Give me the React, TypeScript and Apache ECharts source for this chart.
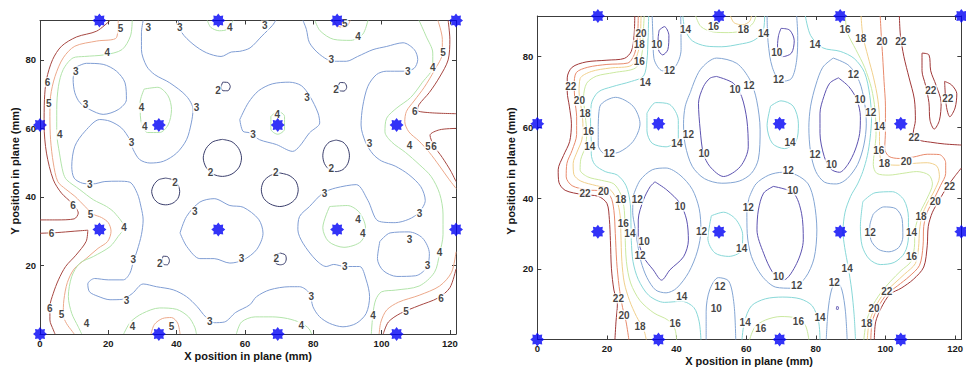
import React, { useEffect, useRef } from 'react';
import * as echarts from 'echarts';

// ---------------- axes ----------------
const X_TICKS = [0, 20, 40, 60, 80, 100, 120];
const Y_TICKS = [20, 40, 60, 80];
const X_MAX = 121.8;
const Y_MAX = 91.5;
const X_TITLE = 'X position in plane (mm)';
const Y_TITLE = 'Y position in plane (mm)';

// sensor positions (blue asterisks), same on both plates
const SENSORS: number[][] = [
  [17.4, 91.5], [52.2, 91.5], [87, 91.5], [121.8, 91.5],
  [0, 61], [34.8, 61], [69.6, 61], [104.4, 61],
  [17.4, 30.5], [52.2, 30.5], [87, 30.5], [121.8, 30.5],
  [0, 0], [34.8, 0], [69.6, 0], [104.4, 0],
];

// ---------------- left plate: contour lines (levels 2..6) ----------------
const LEFT_2: number[][][] = [
  [[53.4, 56.8], [56.2, 56.1], [58.2, 54.1], [59, 51.4], [58.3, 48.7], [56.2, 46.7], [53.4, 46], [50.6, 46.7], [48.6, 48.7], [47.8, 51.4], [48.6, 54.1], [50.6, 56.1], [53.4, 56.8]],
  [[36.8, 45.5], [38.9, 45], [40.4, 43.5], [40.9, 41.6], [40.4, 39.6], [38.9, 38.2], [36.8, 37.7], [34.7, 38.2], [33.3, 39.6], [32.7, 41.6], [33.3, 43.5], [34.7, 45], [36.8, 45.5]],
  [[70.2, 47], [72.9, 46.3], [74.9, 44.6], [75.6, 42.1], [74.9, 39.6], [72.9, 37.9], [70.2, 37.2], [67.5, 37.9], [65.5, 39.6], [64.8, 42.1], [65.5, 44.6], [67.5, 46.3], [70.2, 47]],
  [[86.7, 56.6], [88.7, 56], [90.1, 54.3], [90.6, 52], [90.1, 49.7], [88.7, 48], [86.7, 47.4], [84.7, 48], [83.3, 49.7], [82.8, 52], [83.3, 54.3], [84.7, 56], [86.7, 56.6]],
  [[53.5, 73.5], [55, 73.4], [55.7, 72.2], [55, 71], [53.6, 71], [53, 72], [53.5, 73.5]],
  [[87.8, 73.4], [89.2, 73.3], [89.8, 72], [89, 70.9], [87.7, 71], [87.3, 72.2], [87.8, 73.4]],
  [[36, 22.7], [37.3, 22.6], [37.9, 21.4], [37.3, 20.2], [36.2, 20.3], [35.8, 21.5], [36, 22.7]],
  [[70.4, 23.6], [71.8, 23.1], [72.1, 21.9], [71.6, 20.6], [70.4, 20.2], [69.1, 20.6], [68.7, 21.9], [69.2, 23.1], [70.4, 23.6]],
];

const LEFT_3: number[][][] = [
  [[10.2, 77.7], [13.6, 79], [18.5, 78.7], [22.4, 76.7], [24.9, 73.3], [25.3, 68.4], [22.9, 65.5], [18.5, 64.1], [14.6, 65.5], [11.7, 67.5], [10.2, 70.4], [9.7, 74.3], [10.2, 77.7]],
  [[30.2, 91.5], [29.7, 87.9], [29.7, 83], [31.2, 78.2], [33.6, 75.7], [38, 73.3], [42.9, 69.4], [44.8, 65.5], [44.3, 61.6], [42.9, 56.7], [40, 52.8], [36.1, 50.4], [32.2, 49.9], [29.2, 50.9], [27.3, 53.8], [26.3, 56.7], [23.9, 60.1], [20.5, 62.1], [17.5, 62.6], [13.2, 59.2], [10.2, 54.8], [9.3, 48.9], [10, 45.5], [12.5, 44], [15.5, 43.8], [19, 44.5], [23, 44.6], [26.3, 44.3], [28.5, 41], [29.6, 37], [30.2, 33.3], [29.7, 29], [28.5, 24.5], [27.3, 21], [26.3, 17.7], [24.4, 15.8], [20, 15.8], [16, 16.2], [14, 14.6], [14.5, 12.3], [17, 11], [20.5, 10], [24, 10.1], [27, 11.8], [30.2, 14.6], [34.1, 13.8], [39, 12.9], [42.9, 10.9], [46, 8], [48.5, 5], [51, 3.3], [54, 3.5], [57.3, 6.3], [61.4, 8.5], [63.4, 10.9], [67.3, 12.9], [73.1, 13.8], [76, 13.8], [78.9, 11.9], [79.9, 8], [81.8, 5.1], [84.8, 3.1], [88.7, 2.1], [92.6, 3.1], [95.5, 6], [96.5, 10.9], [95.5, 15.8], [93.6, 19.7], [89.2, 19.7], [86, 20.3], [83.8, 19.7], [80.8, 21.6], [77, 26.5], [75.5, 30.4], [76, 34.3], [78.9, 37.2], [82.8, 41.1], [86.5, 42.6], [92.6, 43.6], [96, 39], [99, 33], [104, 32.5], [108, 33.5], [111, 35.5], [112.8, 39], [111.5, 43], [108, 46.5], [104, 49], [100, 50.5], [97.5, 52.5], [95.3, 56], [94, 61], [94.5, 66.5], [96, 72.3], [98.5, 75.7], [101.4, 76.7], [106.3, 76.7], [109.5, 77.5], [110.6, 80.1], [109.6, 83], [106.3, 85], [101.4, 83.9], [97.5, 83], [93, 81], [89.7, 79.6], [85.8, 79.6], [81.9, 81.6], [78.9, 85], [78, 88.9], [77, 91.5]],
  [[40.5, 91.5], [41.5, 88], [44.8, 84.6], [48.7, 82.1], [53, 81], [56, 82.3], [58.5, 82.5], [61.5, 83.5], [65, 87], [68, 90], [69, 91.5]],
  [[58.5, 62.6], [61, 67.5], [64, 71], [68, 73], [73, 73.5], [76.5, 72.5], [79, 69.4], [81.4, 64.5], [81.9, 61.6], [78.9, 58.7], [76, 54.8], [74, 53.3], [69.2, 55.3], [64.3, 56.7], [61.4, 58.7], [59.4, 59.2], [58.5, 62.6]],
  [[41, 29.5], [42.9, 34.3], [46.8, 38.5], [51, 39.5], [55.6, 37.5], [59.5, 37], [64, 33.5], [65.3, 29.4], [63.4, 24.6], [59.5, 21.6], [55.6, 20.7], [51, 22], [46.8, 22], [43, 25.5], [41, 29.5]],
  [[99.5, 27], [102.5, 29.5], [108, 29.8], [112, 28], [114, 23.5], [113.3, 19.5], [110, 17], [104.5, 16.8], [100.5, 18.5], [98.8, 22], [99.5, 27]],
];

const LEFT_4: number[][][] = [
  [[27, 91.5], [26.5, 87], [24, 83], [19, 81.5], [13, 81], [9.7, 80.6], [6.8, 77.2], [5.4, 72.3], [4.9, 65.5], [4.9, 58.7], [5.7, 52.8], [6.8, 47], [7.8, 45], [11.7, 42.1], [15.6, 39.2], [19.5, 37.2], [21.9, 35.3], [24.6, 31.1], [22.9, 28.5], [20.5, 25.5], [15.6, 22.6], [11.7, 20.7], [9.3, 16.8], [8.3, 10.9], [9.3, 6], [11.2, 2.1], [12.2, 0]],
  [[24.5, 0], [26.5, 3.5], [30, 6], [35, 7.6], [40, 7.2], [43.5, 5], [45.3, 2], [45.8, 0]],
  [[57.5, 0], [59, 3.5], [63, 5], [68, 5], [72.5, 4.5], [76.5, 3.2], [78.8, 1.5], [79.5, 0]],
  [[49, 91.5], [50, 89.5], [52.5, 88.5], [55, 89], [56.5, 91.5]],
  [[80.5, 91.5], [82, 88.5], [86, 86], [91, 85.7], [94.5, 87.5], [96, 91.5]],
  [[30.5, 71.5], [34.5, 72], [37.5, 69.5], [38.5, 65.5], [37.5, 61], [35, 58.8], [31.5, 58.8], [29.5, 62.5], [29.3, 67.5], [30.5, 71.5]],
  [[67.6, 63.5], [69.6, 65], [71.6, 63.5], [71.6, 59.8], [69.6, 58.3], [67.6, 59.8], [67.6, 63.5]],
  [[84.8, 37.2], [90, 37.5], [93.5, 35.5], [95.3, 31], [94, 27], [89, 25.3], [84.5, 27], [82.8, 31], [84.8, 37.2]],
  [[111, 91.5], [113, 87], [115, 82], [115, 78], [112, 73.5], [108.5, 69], [104.5, 66], [101.5, 63], [101, 59], [103, 56], [107, 53], [111, 49.5], [114.5, 46], [117, 41], [118, 35], [118, 29], [117, 23.5], [115.5, 18], [111, 14], [104, 12.8], [100, 12.3], [98.3, 10], [97.5, 6], [97, 0]],
];

const LEFT_5: number[][][] = [
  [[22.9, 91.5], [22.4, 86.5], [16.6, 85.5], [10.2, 84], [6.8, 80.6], [4.4, 75.2], [3.1, 69.4], [2.9, 63.5], [3.1, 56.7], [3.9, 49.9], [5.2, 44.5], [7.5, 42.3], [10.2, 40.2], [13.2, 37.2], [15.5, 35], [18, 34], [20, 32.5], [20.8, 30], [19.8, 27], [17, 25], [13.5, 22], [10, 19], [8, 15], [7, 10], [6.8, 5.6], [7.8, 3], [9.5, 0.7], [10, 0]],
  [[32.5, 0], [33.5, 2.8], [35.8, 4.5], [38.5, 4.8], [40.3, 3.2], [41, 0]],
  [[86, 91.5], [87.3, 89.8], [89.5, 89.5], [90.8, 91.5]],
  [[116.5, 91.5], [117.8, 86], [117.8, 82], [115.5, 77], [112.5, 72], [109.5, 68], [107.3, 65], [106.8, 62], [108, 59], [111, 56.3], [114, 53], [117, 49], [119.5, 45.5], [121.8, 42.5]],
  [[121.8, 24], [120.5, 18], [117, 14], [111, 11.3], [105, 9.3], [101.5, 7], [99.8, 3.5], [99.3, 0]],
];

const LEFT_6: number[][][] = [
  [[20.5, 91.5], [16.6, 88.4], [10.7, 86.7], [6.3, 84], [3.7, 80.1], [1.9, 74.3], [1.3, 68.4], [1.2, 61], [1.9, 52.8], [3.9, 45], [6.3, 41.1], [9.3, 38.2], [11.2, 35.3], [10, 33.6], [5, 33.3], [0, 33.3]],
  [[0, 29.4], [5, 29.6], [10, 30], [14, 30.3], [13.5, 27], [10.5, 23], [7.5, 19.7], [5.4, 15.8], [3.9, 11.9], [2.9, 8], [2.9, 4.1], [3.9, 1.2], [4.4, 0]],
  [[119.5, 91.5], [120, 86], [119.5, 80], [117, 75], [114, 70.5], [111, 67], [110.5, 65.3], [114, 64.6], [121.8, 64.3]],
  [[121.8, 60], [117, 59.6], [114.2, 58], [115.3, 55], [117.8, 51.5], [120.3, 47.5], [121.8, 44.5]],
  [[121.8, 19], [120, 13.5], [116.5, 10.5], [111, 8.3], [105.5, 6], [102, 3.5], [100.5, 0]],
];

const LEFT_LABELS: [number, number, string][] = [
  [23.6, 89.2, '5'], [31.7, 89.4, '3'], [40.9, 89.4, '3'], [55.6, 89.4, '4'], [19.7, 82.3, '4'], [10.5, 76.7, '3'],
  [52.1, 71.1, '2'], [2.2, 73.5, '6'], [2.6, 67.2, '5'], [13.3, 67, '3'], [29.7, 66, '4'], [45.8, 66, '3'],
  [30.7, 60.6, '4'], [5.8, 58.2, '4'], [26.8, 55.8, '3'], [49.9, 47, '2'], [14.6, 43.6, '3'], [39.5, 44.1, '2'],
  [65.8, 90, '3'], [89.2, 90.7, '5'], [93.1, 86.9, '4'], [118, 82.3, '5'], [115, 77.7, '4'], [85.3, 80.1, '3'],
  [107.7, 76.7, '3'], [86.7, 71.3, '2'], [78.2, 68.9, '3'], [109.7, 65, '6'], [69.5, 64, '4'], [62.4, 58.2, '3'],
  [96.5, 55.7, '3'], [108.2, 55.1, '4'], [113.6, 54.8, '5'], [115.4, 54.8, '6'], [85.3, 48.4, '2'], [69, 47.2, '2'],
  [9.7, 37.4, '6'], [14.8, 34.8, '5'], [45.3, 35.8, '3'], [24.6, 31.1, '4'], [3.4, 29.4, '6'], [27.3, 21.6, '3'],
  [35.1, 20.7, '2'], [25.3, 9.7, '3'], [2.9, 7.5, '6'], [6.3, 5.6, '5'], [13.6, 3.1, '4'], [27.1, 2.3, '4'],
  [38.5, 2.1, '5'], [49.7, 3.6, '3'], [83.3, 41.1, '3'], [93.1, 33.5, '4'], [94.5, 29.4, '4'], [111.1, 35.3, '3'],
  [108.2, 27.5, '3'], [59, 21.9, '3'], [69.2, 22.1, '2'], [89.2, 19.7, '3'], [113.5, 19.9, '3'], [117, 23.8, '4'],
  [79.4, 10.9, '3'], [117.4, 10.4, '6'], [107.2, 6.7, '5'], [97.5, 5.4, '4'], [76.5, 2.4, '4'],
];

// ---------------- right plate: contour lines (levels 10..22) ----------------
const RIGHT_10: number[][][] = [
  [[33.8, 44.6], [37.2, 42.3], [41, 38.5], [42.9, 33.8], [43.4, 28.1], [42, 23.4], [38.1, 19.7], [35.7, 16.8], [33.3, 19.7], [30.5, 23.4], [29, 29], [29, 33.8], [30.5, 39.5], [32.4, 43.2], [33.8, 44.6]],
  [[51.5, 74.4], [56.3, 72.5], [58.7, 68.7], [60.2, 62.1], [60.6, 54.5], [58.3, 48.9], [53.5, 46.1], [49.6, 48.9], [47.7, 52.6], [46.8, 59.2], [46.3, 66.8], [47.7, 71.5], [49.6, 73.9], [51.5, 74.4]],
  [[86.5, 74], [89.5, 71.5], [91.8, 67.8], [92.8, 63], [92.6, 58.3], [91.3, 53.6], [89.2, 49.5], [86.8, 47.3], [84.3, 48.2], [82.4, 51.8], [81.2, 58.3], [81.2, 64], [82.3, 68.7], [84, 72.5], [86.5, 74]],
  [[67.8, 43.3], [73.6, 41.4], [75.9, 35.7], [76.4, 28.2], [74.5, 21.5], [70.7, 16.8], [67.8, 18.7], [65, 24.4], [63.1, 31], [63.5, 36.6], [65, 41.4], [67.8, 43.3]],
  [[35, 87.5], [36.5, 88.5], [37.8, 86], [37.5, 82], [36, 80.5], [34.8, 82], [34.7, 85], [35, 87.5]],
  [[70, 88], [72.5, 87.5], [73.8, 84.5], [73, 81], [70.5, 80], [69, 83], [69.3, 86], [70, 88]],
  [[50.8, 9.2], [51.3, 9.3], [51.4, 8.6], [50.9, 8.4], [50.8, 9.2]],
  [[86, 9.3], [86.5, 9.2], [86.4, 8.5], [85.9, 8.6], [86, 9.3]],
];

const RIGHT_12: number[][][] = [
  [[17.5, 60], [18, 66], [22.5, 68.5], [27.5, 66], [29.5, 61], [27.5, 56], [23.5, 53], [19.5, 52.5], [17.5, 55], [17.5, 60]],
  [[33, 91.5], [33.2, 86], [33.5, 79.5], [36, 76], [39.5, 77], [41.3, 82], [41.2, 91.5]],
  [[27.5, 40.5], [29.5, 45], [33, 48], [37, 48.5], [41, 46.5], [44.5, 42.5], [46.5, 37], [47, 31], [46, 25], [43.5, 19], [40, 14.5], [37, 13.2], [34, 14], [31.5, 17.5], [29.8, 22], [28.8, 27], [28, 32], [27.4, 36], [27.5, 40.5]],
  [[44, 70], [46.8, 76.3], [51.5, 79.6], [57.3, 78.1], [61.1, 73.4], [63, 67.7], [64, 59.3], [63.5, 51], [61.5, 47], [58, 44.8], [53, 44.2], [48, 45.5], [44.5, 49], [42.5, 55], [42, 61], [42.5, 66], [44, 70]],
  [[60.8, 40], [62.8, 44], [66.5, 46.5], [70.5, 47.3], [74.5, 46.5], [77.8, 44], [79.5, 39], [80.3, 31], [79.5, 23], [77, 17.5], [73, 14.5], [68.5, 14.8], [64.5, 18], [61.5, 23.5], [60.3, 30], [60.2, 36], [60.8, 40]],
  [[66, 91.5], [66.3, 84], [67.5, 77], [70, 73], [73, 73.8], [74.5, 79], [74.8, 86], [74.5, 91.5]],
  [[85, 79.6], [89.5, 77.5], [92.5, 73], [94, 67], [94.5, 61], [93.8, 55], [92, 49.5], [89, 45.5], [86, 44], [82.5, 44.5], [80, 47.5], [78.5, 53], [78, 60], [78.5, 66], [80, 72], [82, 77], [85, 79.6]],
  [[96.5, 35.5], [99.5, 37.5], [103, 37], [104.8, 34], [105, 29], [103.8, 26], [101, 24.8], [98, 25.5], [95.8, 28.2], [95.5, 32], [96.5, 35.5]],
  [[48.5, 0], [48.5, 8], [49.5, 14], [52, 17.5], [55, 16.5], [56.5, 10], [57, 0]],
  [[83, 0], [83.5, 8], [84.5, 14], [86, 16.5], [87.5, 14], [88.5, 8], [89, 0]],
];

const RIGHT_14: number[][][] = [
  [[32, 91.5], [31.8, 85], [31.5, 79], [30.5, 74.5], [27, 73], [21.5, 71.5], [17.5, 70], [15.5, 66.5], [15.3, 61], [15.5, 56], [15.5, 52.5], [16.5, 49.5], [19.5, 47.5], [23, 46.5], [25.5, 43.5], [26.7, 38.5], [26.9, 33], [27, 28], [27.5, 22], [29, 17], [32, 12.5], [36.5, 10.5], [41.5, 10.8], [45, 9], [46.5, 5], [47, 0]],
  [[31.5, 64], [34, 67], [38, 66.5], [40.5, 62], [40.5, 57], [37, 54.5], [33, 55.5], [31.5, 59], [31.5, 64]],
  [[50, 35], [53.5, 36], [57, 34], [59, 29.5], [58.5, 25], [55, 23.5], [51, 24.5], [49, 28.5], [50, 35]],
  [[67, 66], [70, 67.5], [73.5, 66], [75, 61], [74.3, 56], [71, 54], [67.5, 55.5], [66, 60.5], [67, 66]],
  [[41.8, 91.5], [42.5, 87.5], [44.5, 84.5], [48.5, 83], [53, 82.8], [58, 83.5], [62, 84.5], [64.8, 87], [65.3, 91.5]],
  [[77, 91.5], [78.5, 86], [82, 82.5], [87, 81.5], [91, 79.5], [94, 75.5], [95.5, 69], [96, 62.5], [95.6, 57], [94.8, 52], [93.5, 47.5], [92, 44], [90, 40.5], [88.4, 36], [87.8, 30.5], [88.3, 26], [89.3, 20.5], [90.3, 14], [91, 7], [91.4, 0]],
  [[58.8, 0], [59.5, 5], [61.5, 9.5], [65.5, 11.5], [70.5, 12], [75.5, 11.5], [79, 9.5], [80.8, 5], [81.2, 0]],
  [[93.5, 39], [97, 41.5], [102, 41.8], [105.3, 39.5], [106.6, 34.5], [106.6, 29], [105.5, 24.5], [102.5, 21.8], [98.5, 21.2], [95.3, 22.8], [93.3, 26.5], [92.8, 32], [93.5, 39]],
];

const RIGHT_16: number[][][] = [
  [[30.7, 91.5], [30.4, 86], [30, 80.5], [28.2, 76.8], [22, 75.5], [17, 74.5], [14.2, 72.5], [13.3, 68.5], [13.8, 63], [14.2, 58.5], [13.8, 54.5], [12.5, 51], [12.3, 48], [14.5, 46], [18.5, 45], [22, 44], [24, 41], [25, 36.5], [25.2, 30], [25.6, 22], [26.8, 16], [29.5, 11], [33.5, 7.5], [37.5, 5.5], [39.5, 3], [40, 0]],
  [[88.5, 91.5], [89, 87], [91.5, 82], [94, 77], [96, 71], [97, 65], [97.3, 58], [96.8, 53], [96.5, 49.5], [97.5, 47], [101, 46.5], [105, 47], [109, 47.5], [112.5, 46.5], [113.5, 44], [112, 40], [110, 36], [108.5, 31], [108.3, 26], [107.3, 22], [104.5, 19.5], [101.5, 16.5], [98.5, 13], [96, 9], [94.5, 5], [93.8, 0]],
  [[45.5, 91.5], [47, 88.5], [50.5, 87], [55, 86.8], [59.5, 87.5], [62, 89.5], [62.8, 91.5]],
  [[61, 0], [62.5, 3.5], [65.5, 5.5], [70, 6.5], [74.5, 6], [77, 4], [78, 0]],
];

const RIGHT_18: number[][][] = [
  [[29.8, 91.5], [29.6, 86], [29, 81.5], [27, 77.5], [21, 76.8], [15.5, 75.8], [12.3, 73.8], [12, 70], [12.6, 65.5], [13.1, 61], [12.8, 56.5], [11.4, 53], [10.3, 49.8], [10.5, 46.7], [12.5, 44.8], [17, 43.5], [20.8, 42.5], [22.8, 39.5], [23.8, 35], [24, 30], [24.3, 22], [25, 16], [26.5, 11], [28.5, 6.5], [30.5, 3], [31.3, 0]],
  [[93, 91.5], [93.5, 86], [95, 80], [96.6, 74], [97.8, 68], [98.3, 62], [98.3, 56], [98.5, 51.5], [100, 49.6], [104, 49.3], [108, 49.8], [112, 50], [114.8, 49], [115.5, 46], [114, 42], [112, 38.5], [110.5, 35], [109.8, 31], [109.5, 26], [108.6, 21.5], [105.5, 18.5], [102.5, 15.8], [99.5, 13], [97, 9], [95.3, 4.7], [94.8, 0]],
  [[55.5, 91.5], [56.5, 89.6], [59, 89], [61, 90], [61.5, 91.5]],
];

const RIGHT_20: number[][][] = [
  [[29, 91.5], [28.8, 86], [28, 81], [26, 78.2], [20, 77.8], [14.5, 77], [11.2, 75.5], [10.6, 72], [10.8, 67.5], [11.3, 63], [11.3, 58], [10, 53.5], [8.5, 49.8], [8.3, 46], [10, 43.5], [14.5, 42.3], [18.5, 42], [21, 40.5], [22, 36.5], [22.4, 30], [22.8, 22], [23.5, 15], [24.5, 9], [25.5, 5], [26.3, 0]],
  [[98.5, 91.5], [98.8, 86], [99.2, 80], [99.6, 73], [100, 66], [100, 59], [99.8, 54], [101, 51.8], [104, 51.2], [108, 51.6], [112, 52.4], [115.5, 52.3], [117.3, 50], [117.3, 47], [115.8, 43.5], [113.8, 39.5], [112, 36], [111, 32], [110.8, 26.5], [109.8, 21], [106.8, 17.8], [103.5, 15.2], [100.4, 12.8], [97.8, 9], [96.2, 5], [95.8, 0]],
];

const RIGHT_22: number[][][] = [
  [[28, 91.5], [27.8, 86], [27, 81.5], [25, 79.5], [20, 79], [14, 78.5], [10, 77], [8.6, 74], [8.6, 70], [9.2, 66], [9.8, 61], [9.3, 56], [7.5, 52], [6, 48], [6.2, 44.5], [8, 42.2], [13, 41], [17.5, 40.5], [20, 38.5], [20.7, 34], [21, 28], [21.3, 20], [22, 14], [23, 10], [22.6, 5], [22.3, 0]],
  [[104, 91.5], [104.3, 86], [105.3, 80], [106.8, 74], [108.3, 68], [108.6, 62], [108, 58.5], [109.5, 56.5], [113, 55.8], [117, 55.3], [121.8, 55]],
  [[121.8, 48.5], [119.8, 46], [117.6, 43], [115.5, 39.5], [113.5, 36], [112.3, 32], [112, 26.5], [111, 20.5], [108, 17], [104.5, 14.5], [101.3, 12.8], [98.8, 9], [97.2, 5], [96.8, 0]],
  [[110.5, 81], [112.5, 80.5], [113, 76], [114.5, 72], [116, 67], [115.5, 62], [114, 59.5], [112.8, 62], [112.5, 67], [111.5, 72], [110.5, 76], [110.5, 81]],
  [[117, 73], [119, 72], [120.5, 69.5], [120, 65.5], [118.5, 63], [117.5, 66], [117, 73]],
];

const RIGHT_LABELS: [number, number, string][] = [
  [29.8, 86.6, '20'], [29.3, 83.3, '18'], [34.3, 83.3, '10'], [29.3, 78.6, '16'], [38, 76, '12'], [31, 72.7, '14'],
  [42.6, 87.8, '14'], [50.6, 88.5, '16'], [9.6, 71.7, '22'], [12.1, 67.5, '20'], [13.7, 64, '18'], [14.7, 58.8, '16'],
  [15.1, 54.6, '14'], [20.7, 52.7, '12'], [43.4, 57.9, '12'], [40.1, 55.5, '14'], [47.9, 52.5, '10'], [56.8, 70.6, '10'],
  [60.8, 71.8, '12'], [59.2, 87.6, '18'], [65, 86.6, '14'], [68.8, 81.2, '10'], [79.8, 83.3, '14'], [69.3, 73.5, '12'],
  [88.4, 87.6, '16'], [92.9, 85.2, '18'], [99, 84.3, '20'], [104.4, 84.3, '22'], [90.8, 74.9, '12'], [92.7, 67.8, '10'],
  [95.8, 64.2, '12'], [98.3, 60.2, '14'], [98.1, 53.5, '16'], [99.7, 49.9, '18'], [106, 50.3, '20'], [113, 70.5, '22'],
  [117.9, 68.1, '22'], [108.2, 57, '22'], [118.4, 43.2, '22'], [72.6, 55.7, '14'], [79.8, 52.4, '12'], [84.5, 49.5, '10'],
  [72.1, 47.9, '12'], [73.4, 42.1, '10'], [60.6, 37.4, '12'], [58.7, 25.8, '14'], [69.3, 17.8, '10'], [74.5, 15.4, '12'],
  [85.3, 16.1, '12'], [89, 20.1, '14'], [95.6, 30.2, '12'], [107.5, 30.3, '14'], [107.5, 23.4, '16'], [110.2, 34.8, '18'],
  [114.3, 39, '20'], [100.4, 13.5, '22'], [96.7, 8.8, '20'], [94.6, 4.5, '18'], [59.7, 4.7, '14'], [64.2, 3.2, '16'],
  [75, 5, '16'], [81.2, 6.3, '14'], [13.7, 41.4, '22'], [19, 41.8, '20'], [24, 39.5, '18'], [28.7, 39.5, '12'],
  [41, 37.6, '10'], [24.7, 32.8, '16'], [26.6, 30, '14'], [30.7, 27.7, '10'], [29.5, 23.9, '12'], [47.2, 30.5, '12'],
  [52.5, 15.1, '12'], [41.5, 12.1, '14'], [23.3, 11.6, '22'], [51.4, 8.8, '10'], [24.9, 6.9, '20'], [39.6, 4.6, '16'],
  [29.5, 3.6, '18'],
];

// ---------------- styles ----------------
const FONT = '"Liberation Sans", Arial, Helvetica, sans-serif';
const AXIS_COLOR = '#3c3c3c';
const LEFT_COLORS: Record<string, string> = { '2': '#3a3e6c', '3': '#809ed4', '4': '#b2e4aa', '5': '#eca88a', '6': '#a74842' };
const RIGHT_COLORS: Record<string, string> = { '10': '#5c52b0', '12': '#84a6d4', '14': '#88d8d8', '16': '#cbe9a0', '18': '#f1d08c', '20': '#e88a6c', '22': '#a03838' };
const STAR = 'path://M20 10 L16.47 7.32 L17.07 2.93 L12.68 3.53 L10 0 L7.32 3.53 L2.93 2.93 L3.53 7.32 L0 10 L3.53 12.68 L2.93 17.07 L7.32 16.47 L10 20 L12.68 16.47 L17.07 17.07 L16.47 12.68 Z';

function lineSeries(lines: number[][][], color: string, axis: number) {
  return lines.map((pts) => ({
    type: 'line', xAxisIndex: axis, yAxisIndex: axis, data: pts,
    symbol: 'none', showSymbol: false, smooth: 0.3, clip: true,
    lineStyle: { color, width: 1 }, silent: true, z: 2, animation: false,
  }));
}

function labelSeries(labels: [number, number, string][], axis: number) {
  return {
    type: 'scatter', xAxisIndex: axis, yAxisIndex: axis,
    data: labels.map(([x, y, t]) => ({ value: [x, y], name: t })),
    symbolSize: 1, itemStyle: { color: 'rgba(0,0,0,0)' }, silent: true, z: 5, clip: false,
    label: {
      show: true, position: 'inside', formatter: (p: any) => p.name,
      color: '#111111', fontSize: 10, fontWeight: 'bold', fontFamily: FONT,
      backgroundColor: '#ffffff', padding: [0, 1],
    },
  };
}

function sensorSeries(axis: number) {
  return {
    type: 'scatter', xAxisIndex: axis, yAxisIndex: axis, data: SENSORS,
    symbol: STAR, symbolSize: 14, itemStyle: { color: '#0000f5' }, silent: true, z: 10, clip: false,
  };
}

function axisCommon(gi: number, max: number, ticks: number[], pos: string, showLabel: boolean) {
  return {
    type: 'value', gridIndex: gi, position: pos, min: 0, max, interval: 20,
    axisLine: { show: true, onZero: false, lineStyle: { color: AXIS_COLOR, width: 1 } },
    axisTick: { show: true, inside: true, length: 4, lineStyle: { color: AXIS_COLOR } },
    splitLine: { show: false },
    axisLabel: {
      show: showLabel, margin: 4, color: '#1a1a1a', fontSize: 9.5, fontWeight: 'bold', fontFamily: FONT,
      formatter: (v: number) => (ticks.indexOf(v) >= 0 ? String(v) : ''),
    },
  };
}

function titleText(text: string, x: number, y: number, vertical: boolean) {
  return {
    type: 'text', x, y, rotation: vertical ? Math.PI / 2 : 0, silent: true,
    style: {
      text, fill: '#141414', font: `bold 11px ${FONT}`,
      align: 'center', verticalAlign: 'middle', textAlign: 'center', textVerticalAlign: 'middle',
    },
  };
}

export default function App() {
  const ref = useRef<HTMLDivElement>(null);
  useEffect(() => {
    if (!ref.current) return;
    const chart = echarts.init(ref.current, undefined, { renderer: 'svg' });
    const series: any[] = [];
    const leftLevels: [string, number[][][]][] = [['6', LEFT_6], ['5', LEFT_5], ['4', LEFT_4], ['3', LEFT_3], ['2', LEFT_2]];
    leftLevels.forEach(([lv, lines]) => series.push(...lineSeries(lines, LEFT_COLORS[lv], 0)));
    const rightLevels: [string, number[][][]][] = [['22', RIGHT_22], ['20', RIGHT_20], ['18', RIGHT_18], ['16', RIGHT_16], ['14', RIGHT_14], ['12', RIGHT_12], ['10', RIGHT_10]];
    rightLevels.forEach(([lv, lines]) => series.push(...lineSeries(lines, RIGHT_COLORS[lv], 2)));
    series.push(labelSeries(LEFT_LABELS, 0));
    series.push(labelSeries(RIGHT_LABELS, 2));
    series.push(sensorSeries(0));
    series.push(sensorSeries(2));

    chart.setOption({
      animation: false,
      backgroundColor: '#ffffff',
      grid: [
        { left: 40, top: 20.5, width: 416, height: 313.5, containLabel: false },
        { left: 537.3, top: 16, width: 424.4, height: 323.5, containLabel: false },
      ],
      xAxis: [
        axisCommon(0, X_MAX, X_TICKS, 'bottom', true),
        axisCommon(0, X_MAX, X_TICKS, 'top', false),
        axisCommon(1, X_MAX, X_TICKS, 'bottom', true),
        axisCommon(1, X_MAX, X_TICKS, 'top', false),
      ],
      yAxis: [
        axisCommon(0, Y_MAX, Y_TICKS, 'left', true),
        axisCommon(0, Y_MAX, Y_TICKS, 'right', false),
        axisCommon(1, Y_MAX, Y_TICKS, 'left', true),
        axisCommon(1, Y_MAX, Y_TICKS, 'right', false),
      ],
      graphic: [
        titleText(X_TITLE, 248, 356, false),
        titleText(X_TITLE, 749, 361, false),
        titleText(Y_TITLE, 15, 171, true),
        titleText(Y_TITLE, 511, 171, true),
      ],
      series,
    });
    return () => chart.dispose();
  }, []);
  return <div ref={ref} style={{ position: 'absolute', left: 0, top: 0, width: 966, height: 369 }} />;
}
